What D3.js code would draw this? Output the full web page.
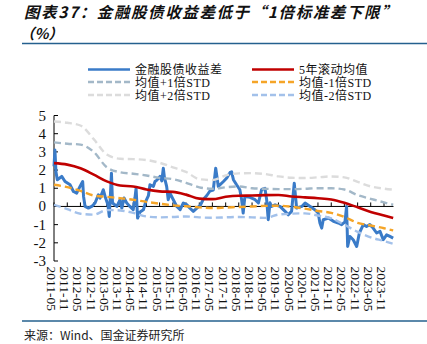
<!DOCTYPE html>
<html><head><meta charset="utf-8">
<script src="https://cdn.jsdelivr.net/npm/d3@7/dist/d3.min.js"></script>
<style>
html,body{margin:0;padding:0;background:#fff;}
svg{display:block;}
</style></head>
<body>
<svg id="chart" width="427" height="344"></svg>
<script>
// ---------- data ----------
const xTickLabels = ["2011-05","2011-11","2012-05","2012-11","2013-05","2013-11","2014-05","2014-11","2015-05","2015-11","2016-05","2016-11","2017-05","2017-11","2018-05","2018-11","2019-05","2019-11","2020-05","2020-11","2021-05","2021-11","2022-05","2022-11","2023-05","2023-11"];
const yTicks = [-3,-2,-1,0,1,2,3,4,5];

const spreadDates = ["2011-05-01","2011-05-14","2011-05-28","2011-06-16","2011-08-16","2011-10-01","2011-12-10","2012-01-25","2012-03-10","2012-04-25","2012-06-01","2012-06-13","2012-07-04","2012-08-19","2012-10-04","2012-11-19","2013-01-04","2013-01-28","2013-03-13","2013-04-07","2013-05-16","2013-06-04","2013-06-22","2013-07-04","2013-07-19","2013-09-16","2013-11-01","2013-11-25","2013-12-25","2014-02-01","2014-03-16","2014-05-01","2014-05-25","2014-06-10","2014-07-01","2014-08-04","2014-09-19","2014-10-25","2014-11-28","2014-12-19","2015-02-04","2015-02-27","2015-03-25","2015-05-07","2015-06-01","2015-06-22","2015-07-07","2015-08-07","2015-08-29","2015-09-22","2015-11-07","2015-12-25","2016-02-10","2016-03-25","2016-05-10","2016-06-25","2016-08-10","2016-09-28","2016-11-13","2016-12-28","2017-02-13","2017-03-28","2017-05-13","2017-06-16","2017-07-22","2017-10-01","2017-11-16","2018-01-01","2018-01-22","2018-02-16","2018-04-01","2018-05-16","2018-06-10","2018-07-01","2018-07-25","2018-10-04","2018-12-13","2019-01-28","2019-03-13","2019-04-28","2019-05-22","2019-06-13","2019-07-07","2019-07-29","2019-09-16","2019-11-22","2020-02-01","2020-03-16","2020-05-01","2020-06-07","2020-07-10","2020-09-19","2020-11-04","2021-01-13","2021-03-19","2021-05-04","2021-05-28","2021-06-22","2021-07-13","2021-09-22","2021-12-01","2022-02-07","2022-03-25","2022-05-10","2022-06-01","2022-06-16","2022-07-16","2022-09-01","2022-10-19","2022-11-25","2023-01-19","2023-03-04","2023-04-19","2023-06-04","2023-07-22","2023-09-07","2023-10-22","2023-12-07","2024-01-22","2024-03-07"];
const spreadValues = [2.2,3.1,1.9,1.47,1.65,1.37,1.19,0.82,0.73,1.1,1.37,0.55,0.0,-0.09,0.0,0.19,0.64,0.46,0.92,0.55,0.09,-0.55,0.82,1.83,0.19,0.0,0.37,-0.09,0.46,0.19,0.0,-0.18,0.46,1.0,-0.64,-0.3,-0.18,0.3,0.6,1.19,1.1,1.37,1.45,1.65,1.4,2.1,1.6,1.1,0.37,0.73,0.37,0.0,-0.18,0.19,0.1,-0.1,-0.27,-0.09,0.05,0.4,0.6,0.85,0.9,2.1,1.1,1.37,1.56,1.87,1.9,1.47,1.19,0.92,0.37,-0.36,0.55,0.5,0.37,0.19,0.92,1.0,0.37,-0.73,0.2,0.0,0.09,0.0,-0.27,-0.46,-0.27,1.28,-0.09,0.0,0.19,0.0,-0.18,-0.36,-0.91,-1.19,-0.73,-0.64,-0.82,-0.91,-1.0,-0.85,0.0,-2.2,-1.65,-1.83,-2.2,-1.46,-1.0,-1.1,-1.0,-1.19,-1.46,-1.37,-1.83,-1.56,-1.65,-1.74];

const statDates = ["2011-05-01","2011-11-01","2012-05-01","2012-11-01","2013-05-01","2013-11-01","2014-05-01","2014-11-01","2015-05-01","2015-11-01","2016-05-01","2016-11-01","2017-05-01","2017-11-01","2018-05-01","2018-11-01","2019-05-01","2019-11-01","2020-05-01","2020-11-01","2021-05-01","2021-11-01","2022-05-01","2022-11-01","2023-05-01","2023-11-01","2024-03-07"];
const mean5y = [2.38,2.3,2.1,1.75,1.38,1.15,1.1,0.93,0.83,0.8,0.65,0.43,0.4,0.53,0.59,0.6,0.62,0.63,0.55,0.5,0.45,0.38,0.2,-0.05,-0.3,-0.5,-0.64];
const plus1 = [3.52,3.45,3.4,3.0,2.15,1.88,1.8,1.7,1.57,1.5,1.3,1.05,0.97,1.05,1.1,1.0,0.97,0.95,0.95,0.97,1.0,1.0,0.93,0.62,0.42,0.22,0.09];
const plus2 = [4.67,4.6,4.45,3.7,2.85,2.62,2.6,2.55,2.4,2.15,1.9,1.5,1.45,1.7,1.82,1.83,1.78,1.65,1.58,1.56,1.6,1.65,1.6,1.35,1.1,0.98,0.92];
const minus1 = [1.19,1.06,0.85,0.6,0.53,0.45,0.37,0.25,0.15,0.06,0.01,-0.05,-0.09,-0.06,-0.03,0.0,0.03,0.04,-0.02,-0.12,-0.25,-0.35,-0.58,-0.9,-1.05,-1.2,-1.32];
const minus2 = [0.09,-0.15,-0.4,-0.45,-0.2,-0.22,-0.35,-0.55,-0.6,-0.58,-0.55,-0.6,-0.62,-0.6,-0.58,-0.6,-0.63,-0.45,-0.4,-0.38,-0.5,-0.65,-1.0,-1.4,-1.7,-1.9,-2.05];

const seriesNames = ["金融股债收益差","5年滚动均值","均值+1倍STD","均值-1倍STD","均值+2倍STD","均值-2倍STD"];
const seriesColors = ["#3a7bc8","#c00000","#a3b8c8","#f5a528","#dcdcdc","#a3c1ea"];

// ---------- chart ----------
const svg = d3.select("#chart");
const parse = d3.timeParse("%Y-%m-%d");
const parseM = d3.timeParse("%Y-%m");

const x = d3.scaleTime().domain([parseM("2011-05"), parseM("2023-11")]).range([54, 384]);
const y = d3.scaleLinear().domain([-3, 5]).range([261, 115.5]);

// title (one text, two lines)
const title = svg.append("text").attr("font-family","'Noto Sans CJK SC',sans-serif")
  .attr("font-weight","bold").attr("font-style","italic").attr("fill","#111");
title.append("tspan").attr("x",24).attr("y",17.5).attr("font-size","15.5px").attr("letter-spacing","1.6px").text("图表37：金融股债收益差低于“1倍标准差下限”");
title.append("tspan").attr("x",20).attr("y",39).attr("font-size","14.5px").text("（%）");
svg.append("line").attr("x1",22).attr("x2",427).attr("y1",43.5).attr("y2",43.5).attr("stroke","#24608e").attr("stroke-width",1.5);
svg.append("line").attr("x1",22).attr("x2",427).attr("y1",321).attr("y2",321).attr("stroke","#24608e").attr("stroke-width",1.5);
svg.append("text").attr("x",24).attr("y",340).attr("font-family","'Noto Sans CJK SC',sans-serif")
  .attr("font-size","12px").attr("fill","#222").text("来源：Wind、国金证券研究所");

// legend
const legendPos = [[88,69.5],[252,69.5],[88,82],[252,82],[88,95],[252,95]];
const dashes = [null,null,"6,3","6,3","6,3","6,3"];
seriesNames.forEach((n,i)=>{
  const [lx,ly] = legendPos[i];
  svg.append("line").attr("x1",lx).attr("x2",lx+42).attr("y1",ly).attr("y2",ly)
    .attr("stroke",seriesColors[i]).attr("stroke-width",2.5)
    .attr("stroke-dasharray",dashes[i]);
  svg.append("text").attr("x",lx+47).attr("y",ly+4.5)
    .attr("font-family","'Liberation Serif','Noto Sans CJK SC',serif").attr("font-size","12px")
    .attr("fill","#111").attr("letter-spacing","0.5px").text(n);
});

// y axis
const yAx = svg.append("g");
yAx.append("line").attr("x1",54).attr("x2",54).attr("y1",y(5)).attr("y2",y(-3)).attr("stroke","#000").attr("stroke-width",1);
yTicks.forEach(t=>{
  yAx.append("line").attr("x1",54).attr("x2",58).attr("y1",y(t)).attr("y2",y(t)).attr("stroke","#000");
  yAx.append("text").attr("x",46).attr("y",y(t)+5).attr("text-anchor","end")
    .attr("font-family","'Liberation Serif',serif").attr("font-size","15px").attr("fill","#111").text(t);
});

// x axis at 0
const xAx = svg.append("g");
xAx.append("line").attr("x1",54).attr("x2",393.5).attr("y1",y(0)).attr("y2",y(0)).attr("stroke","#000").attr("stroke-width",1);
xTickLabels.forEach(l=>{
  const xp = x(parseM(l));
  xAx.append("line").attr("x1",xp).attr("x2",xp).attr("y1",y(0)).attr("y2",y(0)-4).attr("stroke","#000");
  xAx.append("text").attr("transform",`translate(${xp-2.5},${266.5}) rotate(90)`)
    .attr("dominant-baseline","central").attr("font-family","'Liberation Serif',serif")
    .attr("font-size","13.5px").attr("fill","#111").text(l);
});

// series
const lineRaw = d3.line().x(d=>x(d[0])).y(d=>y(d[1]));
const lineSmooth = d3.line().x(d=>x(d[0])).y(d=>y(d[1])).curve(d3.curveMonotoneX);
const spread = spreadDates.map((d,i)=>[parse(d), spreadValues[i]]);
const mk = arr => statDates.map((d,i)=>[parse(d), arr[i]]);

svg.append("path").datum(spread).attr("d",lineRaw).attr("fill","none")
  .attr("stroke",seriesColors[0]).attr("stroke-width",3).attr("stroke-linejoin","round");
svg.append("path").datum(mk(mean5y)).attr("d",lineSmooth).attr("fill","none")
  .attr("stroke",seriesColors[1]).attr("stroke-width",2.6);
[[plus1,2],[minus1,3],[plus2,4],[minus2,5]].forEach(([arr,i])=>{
  svg.append("path").datum(mk(arr)).attr("d",lineSmooth).attr("fill","none")
    .attr("stroke",seriesColors[i]).attr("stroke-width",2.4).attr("stroke-dasharray","7,4");
});
</script>
</body></html>
